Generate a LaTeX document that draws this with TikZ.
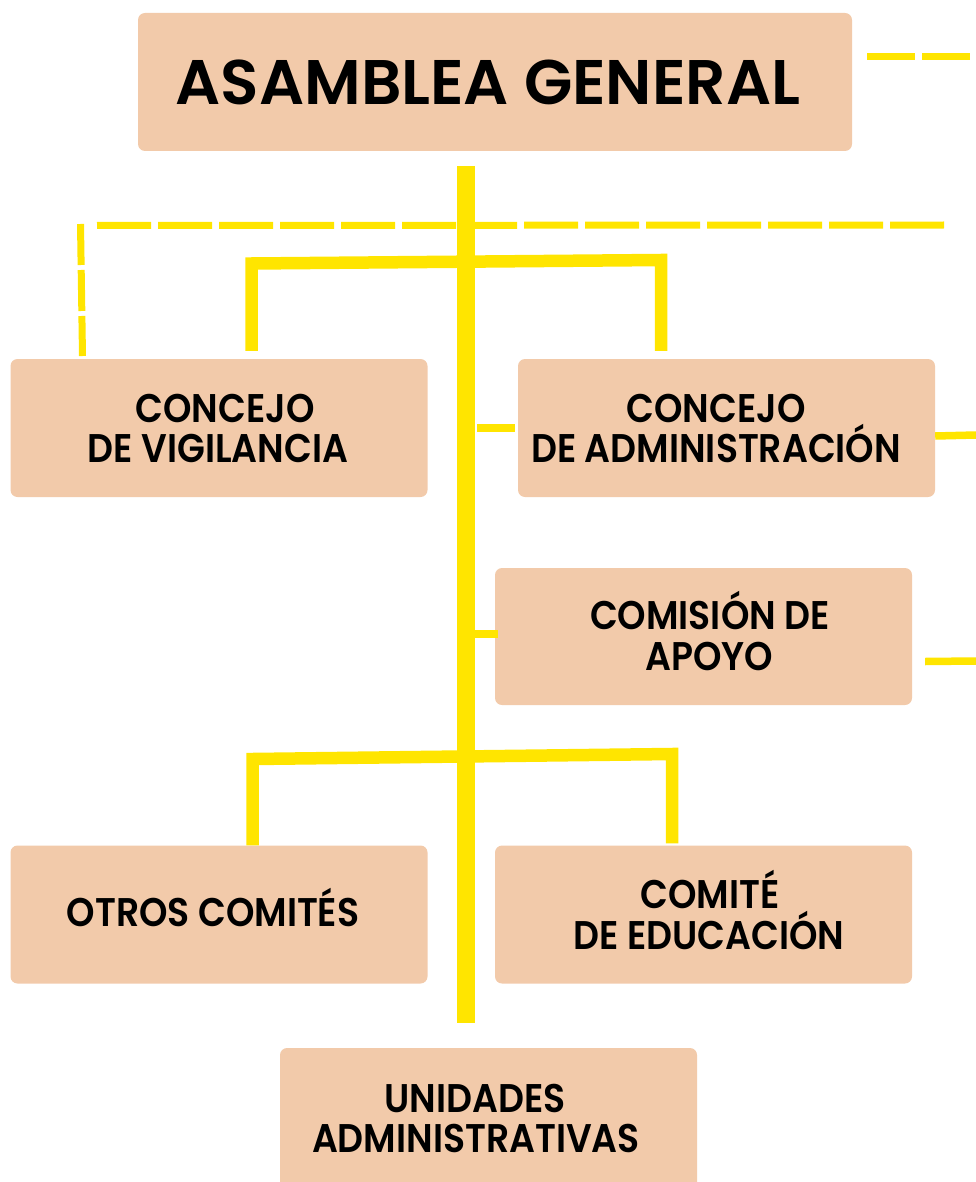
\documentclass[tikz,border=0pt]{standalone}
\usepackage{fontspec}
\setmainfont{Poppins}
\newfontfamily\boxfont{Poppins SemiBold}[FakeStretch=0.905]
\newfontfamily\bigboxfont{Poppins SemiBold}[FakeStretch=1.0]
\definecolor{peach}{RGB}{242,202,170}
\definecolor{ylw}{RGB}{255,229,0}
\begin{document}
\begin{tikzpicture}[x=1pt,y=-1pt,
  box/.style={fill=peach, rounded corners=7pt, inner sep=0pt, minimum width=417pt, minimum height=138pt},
  lbl/.style={font=\boxfont\fontsize{40}{40}\selectfont, text=black, inner sep=0pt, anchor=base},
  big/.style={font=\bigboxfont\fontsize{63}{63}\selectfont, text=black, inner sep=0pt, anchor=base},
  trunk/.style={ylw, line width=18.5pt},
  brk/.style={ylw, line width=12.5pt, line join=miter},
  tie/.style={ylw, line width=7.5pt},
  dsh/.style={ylw, line width=7pt}]
\useasboundingbox (0,0) rectangle (976,1182);
\clip (0,0) rectangle (976,1182);
% boxes
\node[box, minimum width=714pt] (ag) at (495,82) {};
\node[box] (vig) at (219,428) {};
\node[box] (adm) at (726.5,428) {};
\node[box, minimum height=137pt] (apo) at (703.5,636.5) {};
\node[box] (otr) at (219,914.5) {};
\node[box] (edu) at (703.5,914.5) {};
\node[box, minimum height=150pt] (uni) at (488.5,1123) {};
% texts
\node[big] (tag) at (488,105) {ASAMBLEA GENERAL};
\node[lbl] (tv1) at (225,422) {CONCEJO};
\node[lbl] (tv2) at (218,462) {DE VIGILANCIA};
\node[lbl] (ta1) at (716,422) {CONCEJO};
\node[lbl] (ta2) at (716,462) {DE ADMINISTRACIÓN};
\node[lbl] (tp1) at (710,629) {COMISIÓN DE};
\node[lbl] (tp2) at (709,670) {APOYO};
\node[lbl] (to1) at (213,926) {OTROS COMITÉS};
\node[lbl] (te1) at (710,908) {COMITÉ};
\node[lbl] (te2) at (709,949) {DE EDUCACIÓN};
\node[lbl] (tu1) at (475,1112) {UNIDADES};
\node[lbl] (tu2) at (476,1152) {ADMINISTRATIVAS};
% connector end points
\coordinate (trTop) at (466,166);
\coordinate (trBot) at (466,1023);
\coordinate (b1l) at (251.5,263.5);
\coordinate (b1r) at (661,260);
\coordinate (b2l) at (252.5,759);
\coordinate (b2r) at (672,754);
\coordinate (dL) at (97,225.5);
\coordinate (dR) at (944,225);
\coordinate (dV) at (82.5,356);
\coordinate (dT) at (80.5,224);
\coordinate (agE) at (976,57);
\coordinate (admE) at (976,435);
\coordinate (apoE) at (976,661);
% dashed lines
\draw[dsh, dash pattern=on 54pt off 7pt] (dL) -- (dR);
\draw[dsh, dash pattern=on 41pt off 5pt] (dT) -- (dV);
\draw[dsh, dash pattern=on 48pt off 7pt] ([xshift=15pt,yshift=25pt]ag.east) -- (agE);
% brackets
\draw[brk] ([xshift=32.5pt,yshift=8pt]vig.north) -- (b1l) -- (b1r) -- ([xshift=-65.5pt,yshift=8pt]adm.north);
\draw[brk] ([xshift=33.5pt]otr.north) -- (b2l) -- (b2r) -- ([xshift=-31.5pt,yshift=2pt]edu.north);
% trunk
\draw[trunk] (trTop) -- (trBot);
% ties
\draw[tie] (477,428) -- ([xshift=-3pt]adm.west);
\draw[tie] (474,634) -- ([xshift=3pt,yshift=2.5pt]apo.west);
\draw[tie] ([yshift=-8pt]adm.east) -- (admE);
\draw[tie] ([xshift=13pt,yshift=-25pt]apo.east) -- (apoE);
\end{tikzpicture}
\end{document}
